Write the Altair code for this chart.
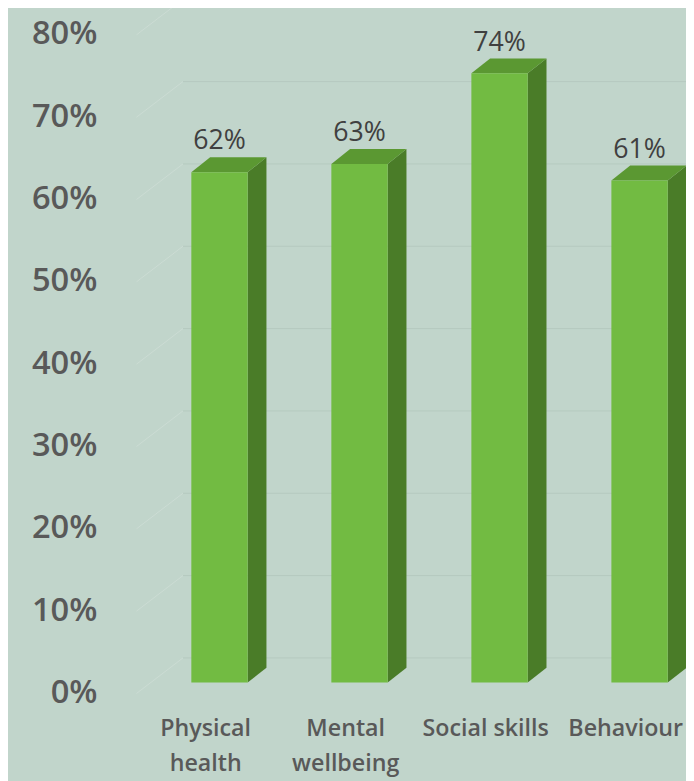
import altair as alt
import pandas as pd

# ---- data ----
categories = ["Physical\nhealth", "Mental\nwellbeing", "Social skills", "Behaviour"]
values = [0.62, 0.63, 0.74, 0.61]
grid_values = [0.0, 0.1, 0.2, 0.3, 0.4, 0.5, 0.6, 0.7, 0.8]

# ---- style / geometry (pixel-ish constants converted to scale units) ----
BG = "#c1d5cb"
FRONT = "#72bb42"
SIDE = "#4a7c28"
TOP = "#5b9832"
GRID = "#b5c9bf"
GRID_SLANT = "#cbdcd3"
PX_PER_UNIT = 141.67          # px between categories
PX_PER_VAL = 833.0            # px per 100 %
BAR_SHIFT = 14 / PX_PER_UNIT  # bar is drawn a bit right of the category centre
HALF_W = 28.5 / PX_PER_UNIT
DX = 19 / PX_PER_UNIT
DY = 15 / PX_PER_VAL
G_FRONT_X = -0.494
G_BACK_X = -0.162
G_END_X = 3.6
G_FRONT_DY = -11 / PX_PER_VAL
G_BACK_DY = 25 / PX_PER_VAL

W, H = 686, 773
xs = alt.Scale(domain=[0, 3], range=[200, 200 + 3 * PX_PER_UNIT])
ys = alt.Scale(domain=[0, 0.8], range=[678, 678 - 0.8 * PX_PER_VAL])

# grid lines
g_rows, s_rows = [], []
for g in grid_values:
    s_rows.append({"g": g, "x": G_FRONT_X, "y": g + G_FRONT_DY})
    s_rows.append({"g": g, "x": G_BACK_X, "y": g + G_BACK_DY})
    g_rows.append({"g": g, "x": G_BACK_X, "y": g + G_BACK_DY})
    g_rows.append({"g": g, "x": G_END_X, "y": g + G_BACK_DY})
grid_df = pd.DataFrame(g_rows)
slant_df = pd.DataFrame(s_rows)

front_rows, side_rows, top_rows, lab_rows = [], [], [], []
for i, (c, v) in enumerate(zip(categories, values)):
    xl = i + BAR_SHIFT - HALF_W
    xr = i + BAR_SHIFT + HALF_W
    front_rows.append({"c": c, "x": xl, "x2": xr, "y": 0.0, "y2": v})
    side_rows += [
        {"c": c, "x": xr, "y": v, "y2": 0.0},
        {"c": c, "x": xr + DX, "y": v + DY, "y2": DY},
    ]
    top_rows += [
        {"c": c, "x": xl, "y": v, "y2": v},
        {"c": c, "x": xl + DX, "y": v + DY, "y2": v},
        {"c": c, "x": xr, "y": v + DY, "y2": v},
        {"c": c, "x": xr + DX, "y": v + DY, "y2": v + DY},
    ]
    lab_rows.append({"c": c, "i": i, "xb": i + BAR_SHIFT, "v": v,
                     "vy": v + 23 / PX_PER_VAL, "txt": f"{round(v * 100)}%"})
front_df = pd.DataFrame(front_rows)
side_df = pd.DataFrame(side_rows)
top_df = pd.DataFrame(top_rows)
lab_df = pd.DataFrame(lab_rows)

X = lambda f="x": alt.X(f"{f}:Q", scale=xs, axis=None)

yaxis = alt.Axis(format="%", values=grid_values, grid=False, domain=False, ticks=False,
                 tickSize=0, labelPadding=0, offset=-90, labelOffset=10,
                 labelFont="Open Sans", labelFontSize=33, labelFontWeight=600,
                 labelColor="#595959", title=None)

grid = alt.Chart(grid_df).mark_line(color=GRID, strokeWidth=1).encode(
    x=X(), y=alt.Y("y:Q", scale=ys, axis=yaxis), detail="g:N")
slant = alt.Chart(slant_df).mark_line(color=GRID_SLANT, strokeWidth=1).encode(
    x=X(), y=alt.Y("y:Q", scale=ys), detail="g:N")

front = alt.Chart(front_df).mark_rect(color=FRONT).encode(
    x=X(), x2="x2:Q", y=alt.Y("y:Q", scale=ys), y2="y2:Q")
side = alt.Chart(side_df).mark_area(color=SIDE, interpolate="linear").encode(
    x=X(), y=alt.Y("y:Q", scale=ys), y2="y2:Q", detail="c:N")
top = alt.Chart(top_df).mark_area(color=TOP, interpolate="linear").encode(
    x=X(), y=alt.Y("y:Q", scale=ys), y2="y2:Q", detail="c:N")

vlabels = alt.Chart(lab_df).mark_text(
    font="Open Sans", fontSize=27, color="#404040", baseline="alphabetic", align="center"
).encode(x=X("xb"), y=alt.Y("vy:Q", scale=ys), text="txt:N")

clabels = alt.Chart(lab_df).mark_text(
    font="Open Sans", fontSize=23.5, fontWeight=600, color="#595959",
    baseline="middle", align="center", lineBreak="\n", lineHeight=35
).encode(x=X("i"), y=alt.value(725), text="c:N")

chart = alt.layer(grid, slant, side, top, front, vlabels, clabels).properties(
    width=W, height=H, background=BG, padding=0,
    autosize=alt.AutoSizeParams(type="none"),
).configure_view(strokeWidth=0)

chart.save("out.html", embed_options={"renderer": "svg", "actions": False})
